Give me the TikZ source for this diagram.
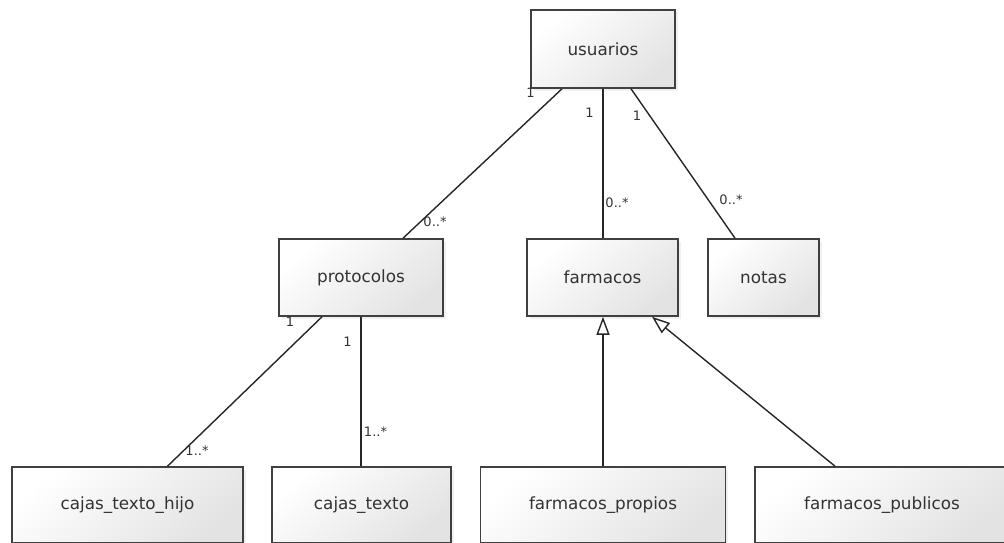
\documentclass[tikz,border=0pt]{standalone}
\usepackage{fontspec}
\setmainfont{DejaVu Sans}
\usetikzlibrary{arrows.meta,shadows}
\definecolor{edgegray}{HTML}{404040}
\definecolor{txtgray}{HTML}{333333}
\tikzset{
  entity/.style={draw=edgegray, line width=1.6pt, rectangle,
    top color=white, bottom color=black!11, shading angle=40,
    drop shadow={shadow xshift=2.5pt, shadow yshift=-2.5pt, opacity=0.12},
    minimum height=77pt, text=txtgray, font=\fontsize{16.8}{18}\selectfont,
    inner sep=0pt},
  assoc/.style={draw=black!85, line width=1.4pt},
  inherit/.style={draw=black!85, line width=1.4pt,
    -{Triangle[open,length=18pt,width=13pt,fill=white]}},
  mult/.style={text=txtgray, font=\fontsize{13}{14}\selectfont, inner sep=0pt}
}
\begin{document}
\begin{tikzpicture}[x=1pt,y=-1pt]
\useasboundingbox (0,0) rectangle (1004,543);
\clip (0,0) rectangle (1004,543);

% classes
\node[entity, minimum width=144pt, minimum height=78pt] (usu) at (603,49) {usuarios};
\node[entity, minimum width=164pt] (pro) at (361,277.5) {protocolos};
\node[entity, minimum width=151pt] (far) at (602.5,277.5) {farmacos};
\node[entity, minimum width=111pt] (not) at (763.5,277.5) {notas};
\node[entity, minimum width=231pt, minimum height=76pt] (hij) at (127.5,505) {cajas\_texto\_hijo};
\node[entity, minimum width=179pt, minimum height=76pt] (caj) at (361.5,505) {cajas\_texto};
\node[entity, minimum width=245pt, minimum height=76pt] (fpr) at (603,505) {farmacos\_propios};
\node[entity, minimum width=254pt, minimum height=76pt] (fpu) at (882,505) {farmacos\_publicos};

% associations
\draw[assoc] ([xshift=-41pt]usu.south) -- ([xshift=42pt]pro.north);
\draw[assoc] (usu.south) -- (usu.south |- far.north);
\draw[assoc] ([xshift=28pt]usu.south) -- ([xshift=-28.5pt]not.north);
\draw[assoc] ([xshift=-39pt]pro.south) -- ([xshift=40pt]hij.north);
\draw[assoc] (pro.south) -- (pro.south |- caj.north);

% generalisations
\draw[inherit] (fpr.north) -- (fpr.north |- far.south);
\draw[inherit] ([xshift=-47pt]fpu.north) -- ([xshift=49.5pt]far.south);

% multiplicities
\node[mult] (m1) at (530.5,93) {1};
\node[mult] (m2) at (435,222) {0..*};
\node[mult] (m3) at (589.5,113) {1};
\node[mult] (m4) at (617,203) {0..*};
\node[mult] (m5) at (637,115.5) {1};
\node[mult] (m6) at (731,200) {0..*};
\node[mult] (m7) at (290,322) {1};
\node[mult] (m8) at (197,450.5) {1..*};
\node[mult] (m9) at (347.5,342) {1};
\node[mult] (m10) at (375.5,431.5) {1..*};
\end{tikzpicture}
\end{document}
